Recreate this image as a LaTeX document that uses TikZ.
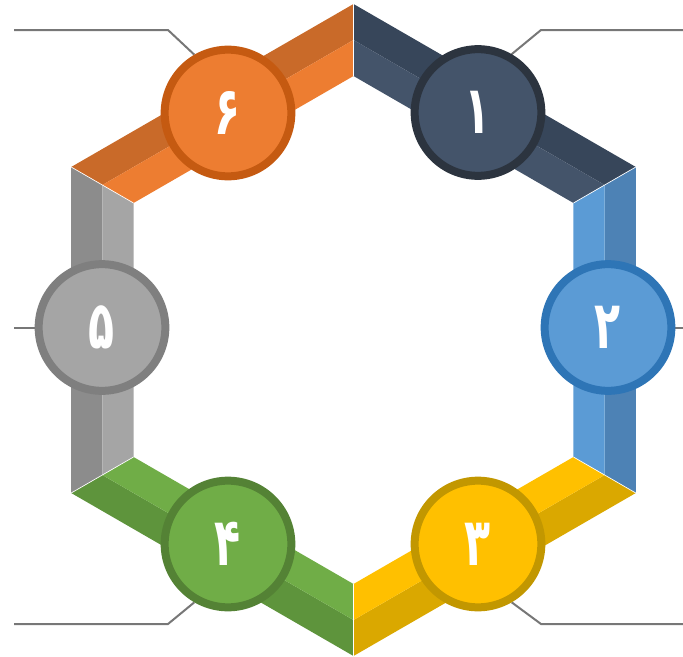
\documentclass[tikz,border=0pt]{standalone}
\usepackage{graphicx}
\usepackage{fontspec}
\usetikzlibrary{backgrounds}
\TeXXeTstate=1
\newfontfamily\digitfont[Script=Arabic]{DejaVu Sans}
\newcommand\fadigit[1]{\scalebox{0.8}[1.25]{\beginR #1\endR}}
\definecolor{navydk}{HTML}{37465A}
\definecolor{navylt}{HTML}{44546A}
\definecolor{navyring}{HTML}{2C343F}
\definecolor{bluedk}{HTML}{4D82B5}
\definecolor{bluelt}{HTML}{5B9BD5}
\definecolor{bluering}{HTML}{2E75B6}
\definecolor{golddk}{HTML}{DAA800}
\definecolor{goldlt}{HTML}{FFC000}
\definecolor{goldring}{HTML}{C29700}
\definecolor{greendk}{HTML}{5E943C}
\definecolor{greenlt}{HTML}{70AD47}
\definecolor{greenring}{HTML}{548235}
\definecolor{graydk}{HTML}{8C8C8C}
\definecolor{graylt}{HTML}{A5A5A5}
\definecolor{grayring}{HTML}{7F7F7F}
\definecolor{orangedk}{HTML}{C96A29}
\definecolor{orangelt}{HTML}{ED7D31}
\definecolor{orangering}{HTML}{C55A11}
\definecolor{leadgray}{HTML}{777777}

\begin{document}
\begin{tikzpicture}[x=0.75pt,y=-0.75pt,
  badge/.style={circle, line width=6pt, minimum size=95pt, inner sep=0pt,
    text=white, font=\digitfont\bfseries\fontsize{40}{40}\selectfont},
  leader/.style={draw=leadgray, line width=1.5pt}]
\useasboundingbox (0,0) rectangle (683,657);
\coordinate (hc) at (353.5,330);

% bands, outer half dark, inner half light
\foreach \a/\dk/\lt in {-90/navydk/navylt, -30/bluedk/bluelt, 30/golddk/goldlt,
    90/greendk/greenlt, 150/graydk/graylt, 210/orangedk/orangelt}{
  \fill[\dk, shift={(hc)}] (\a:326) -- (\a+60:326) -- (\a+60:290) -- (\a:290) -- cycle;
  \fill[\lt, shift={(hc)}] (\a:290) -- (\a+60:290) -- (\a+60:254) -- (\a:254) -- cycle;
}
\foreach \a in {-90,-30,...,210}
  \draw[white, line width=0.5pt, shift={(hc)}] (\a:326) -- (\a:254);

% badges
\node[badge, draw=navyring, fill=navylt] (c1) at (478,112.5) {\fadigit{۱}};
\node[badge, draw=bluering, fill=bluelt] (c2) at (608,327.5) {\fadigit{۲}};
\node[badge, draw=goldring, fill=goldlt] (c3) at (478,544) {\fadigit{۳}};
\node[badge, draw=greenring, fill=greenlt] (c4) at (228,544) {\fadigit{۴}};
\node[badge, draw=grayring, fill=graylt] (c5) at (102,327.5) {\fadigit{۵}};
\node[badge, draw=orangering, fill=orangelt] (c6) at (228,113) {\fadigit{۶}};

% leaders
\coordinate (k1) at (541,30);  \coordinate (e1) at (683,30);
\coordinate (e2) at (683,327.5);
\coordinate (k3) at (541,624); \coordinate (e3) at (683,624);
\coordinate (k4) at (168,624); \coordinate (e4) at (14,624);
\coordinate (e5) at (14,327.5);
\coordinate (k6) at (168,30);  \coordinate (e6) at (14,30);
\begin{pgfonlayer}{background}
\draw[leader] (c1.60) -- (k1) -- (e1);
\draw[leader] (c2.east) -- (e2);
\draw[leader] (c3.-60) -- (k3) -- (e3);
\draw[leader] (c4.240) -- (k4) -- (e4);
\draw[leader] (c5.west) -- (e5);
\draw[leader] (c6.120) -- (k6) -- (e6);
\end{pgfonlayer}
\end{tikzpicture}
\end{document}
